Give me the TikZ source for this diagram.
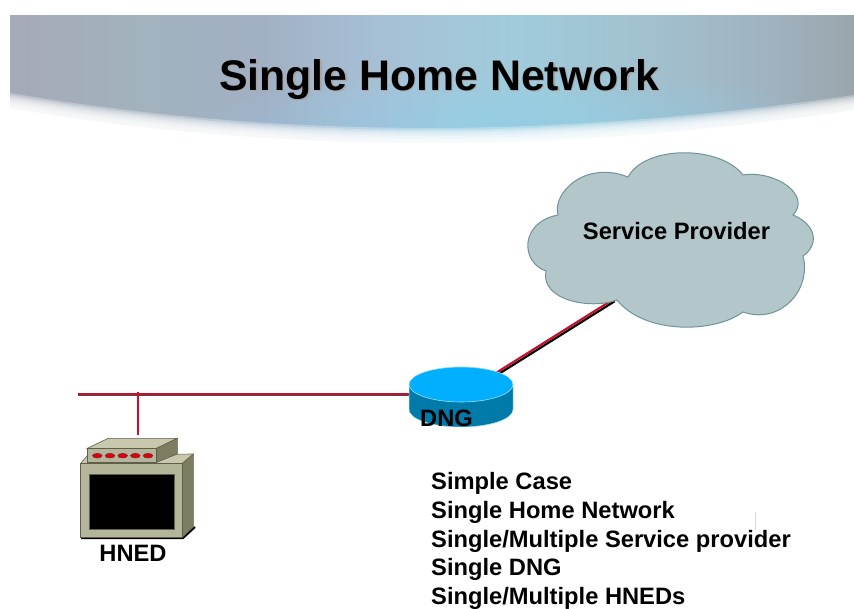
\documentclass[tikz,border=0pt]{standalone}
\usepackage{fontspec}
\setmainfont{Liberation Sans}
\definecolor{ba}{HTML}{B0B0BC}
\definecolor{bb}{HTML}{A6A9B8}
\definecolor{bc}{HTML}{A2B2BD}
\definecolor{bd}{HTML}{A2B0C4}
\definecolor{be}{HTML}{A6C0D6}
\definecolor{bf}{HTML}{A0CBDB}
\definecolor{bg}{HTML}{A2C2D0}
\definecolor{bh}{HTML}{A0B2C0}
\definecolor{bi}{HTML}{9AA6AC}
\pgfdeclarehorizontalshading{bannershade}{100bp}{
  color(0bp)=(ba); color(25bp)=(bb); color(32bp)=(bc); color(40bp)=(bd);
  color(47bp)=(be); color(55bp)=(bf); color(62bp)=(bg); color(70bp)=(bh); color(75bp)=(bi); color(100bp)=(bi)}
\definecolor{linkred}{HTML}{C8102E}
\definecolor{cloudfill}{HTML}{B3C6C9}
\definecolor{cloudedge}{HTML}{6F9497}
\definecolor{dngside}{HTML}{007AA8}
\definecolor{dngtop}{HTML}{00B0FF}
\definecolor{dngedge}{HTML}{9FDCF5}
\definecolor{boxtop}{HTML}{C8C8AE}
\definecolor{boxside}{HTML}{7D7D62}
\definecolor{boxfront}{HTML}{B5B59B}
\definecolor{boxedge}{HTML}{5F5F48}
\definecolor{led}{HTML}{E00010}
\definecolor{ledge}{HTML}{7A2020}
\tikzset{
  x=1pt,y=-1pt,
  label text/.style={font=\fontsize{23.7}{23.7}\selectfont\bfseries,inner sep=0pt},
  title text/.style={font=\fontsize{42.8}{42.8}\selectfont\bfseries,inner sep=0pt},
  link red/.style={draw=linkred,line width=2.2pt},
  link black/.style={draw=black,line width=2.2pt},
  box edge/.style={draw=boxedge,line width=.6pt},
}
\begin{document}
\begin{tikzpicture}
\useasboundingbox (0,0) rectangle (854,608);
% banner
\begin{scope}
  \clip (10,15) -- (854,15) -- (854,110) .. controls (720,130) and (570,143) .. (432,143) .. controls (290,143) and (150,132) .. (10,108) -- cycle;
  \shade[shading=bannershade] (10,15) rectangle (854,145);
  \foreach \r in {30,60,90,120,150,180,210}
    \fill[cyan!45!white,opacity=.07] (520,130) ellipse ({\r*1.5} and {\r*.28});
\end{scope}
\foreach \k in {-5,-3,-1,1,3,5,7}
  \fill[white,opacity=.3,shift={(0,\k)}] (10,98) .. controls (150,122) and (290,133) .. (432,133) .. controls (570,133) and (720,120) .. (854,100) -- (854,150) -- (10,150) -- cycle;
% title
\node[title text,text=black!35] at (440.5,81) {Single Home Network};
\node[title text] (title) at (439,79.5) {Single Home Network};
% anchors
\coordinate (busL) at (78,394.5);
\coordinate (busT) at (138,394.5);
\coordinate (hnedTop) at (138,435);
\coordinate (dngL) at (412,394.5);
\coordinate (dngR) at (496,374);
\coordinate (cloudIn) at (614,300);
% connectors
\draw[black!70,line width=1pt] ([yshift=-1.4pt]busL) -- ([yshift=-1.4pt]dngL);
\draw[draw=linkred,line width=2.2pt] ([yshift=.3pt]busL) -- ([yshift=.3pt]dngL);
\draw[draw=linkred,line width=2.6pt] ([yshift=3pt]busT) -- (hnedTop);
\draw[link black] ([xshift=.7pt,yshift=-1.2pt]dngR) -- ([xshift=.7pt,yshift=-1.2pt]cloudIn);
\draw[link red] ([xshift=-.6pt,yshift=.7pt]dngR) -- ([xshift=-.6pt,yshift=.7pt]cloudIn);
% cloud
\draw[fill=cloudfill,draw=cloudedge,line width=1pt] (558,215) .. controls (552,193) and (585,160) .. (628,177)
  .. controls (645,145) and (720,145) .. (743,175)
  .. controls (775,170) and (812,195) .. (793,215)
  .. controls (817,225) and (819,245) .. (803,256)
  .. controls (812,290) and (780,325) .. (743,312)
  .. controls (715,333) and (645,335) .. (617,300)
  .. controls (590,310) and (540,300) .. (546,271)
  .. controls (520,262) and (520,222) .. (558,215) -- cycle;
\node[label text] (sp) at (676.5,231) {Service Provider};
% DNG
\fill[fill=dngside] (409,384.5) -- (409,409.5) arc[start angle=180,end angle=360,x radius=52,y radius=-17.5] -- (513,384.5) -- cycle;
\draw[fill=dngtop,draw=dngedge,line width=.6pt] (461,384.5) ellipse (52 and 17.5);
\draw[draw=dngedge,line width=.5pt] (409,384.5) -- (409,409.5) arc[start angle=180,end angle=360,x radius=52,y radius=-17.5] -- (513,384.5);
\node[label text] (dng) at (446.5,418.5) {DNG};
% HNED monitor
\draw[black,line width=2pt] (81,538) -- (183,538) -- (195,527);
\fill[fill=boxtop] (80.7,463.3) -- (88,455) -- (193.3,454) -- (182.3,463.3) -- cycle;
\fill[fill=boxside] (182.3,463.3) -- (193.3,454) -- (193.3,527) -- (182.3,537.3) -- cycle;
\draw[fill=boxfront,box edge] (80.7,463.3) rectangle (182.3,537.3);
\draw[fill=black,box edge] (89.3,474) rectangle (174.3,529.7);
\draw[box edge] (182.3,463.3) -- (193.3,454) -- (193.3,527) -- (182.3,537.3);
\draw[box edge] (80.7,463.3) -- (88,455) -- (193.3,454);
% hub
\draw[fill=boxtop,box edge] (87.3,448.3) -- (108.3,438.3) -- (177.3,438.3) -- (156.7,448.3) -- cycle;
\draw[fill=boxside,box edge] (156.7,448.3) -- (177.3,438.3) -- (177.3,454) -- (156.7,462.3) -- cycle;
\draw[fill=boxfront,box edge] (87.3,448.3) rectangle (156.7,462.3);
\foreach \x in {97.3,110,122.7,135.3,148}
  \draw[fill=led,draw=ledge,line width=.5pt] (\x,455.7) ellipse (4.8 and 2.3);
\node[label text] (hned) at (133,553) {HNED};
% list
\node[label text,anchor=base west] (l1) at (431,489.5) {Simple Case};
\node[label text,anchor=base west] (l2) at (431,518.5) {Single Home Network};
\node[label text,anchor=base west] (l3) at (431,547) {Single/Multiple Service provider};
\node[label text,anchor=base west] (l4) at (431,575.5) {Single DNG};
\node[label text,anchor=base west] (l5) at (431,604.5) {Single/Multiple HNEDs};
\draw[draw=black!15,line width=.5pt] (755,512) -- (755,530);
\end{tikzpicture}
\end{document}
